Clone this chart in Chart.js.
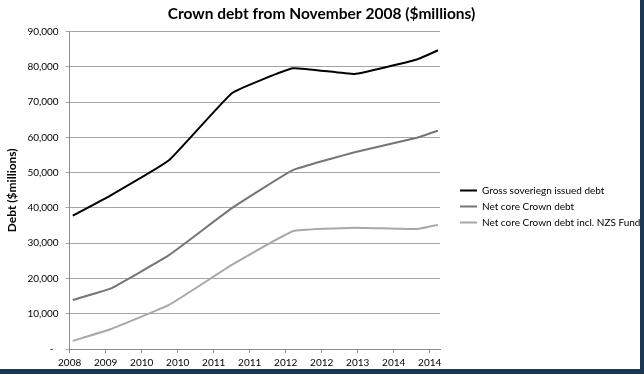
<!DOCTYPE html>
<html>
<head>
<meta charset="utf-8">
<script src="https://cdn.jsdelivr.net/npm/chart.js@4.4.0/dist/chart.umd.min.js"></script>
<style>
  body { margin: 0; background: #1c3550; overflow: hidden; }
  #box { position: absolute; left: 0; top: 0; width: 640px; height: 369px; background: #fff; }
</style>
</head>
<body>
<div id="box"><canvas id="grafico"></canvas></div>
<script>
// months after 1 Nov 2008 for each observation
const months = [0.6, 7.9, 19.3, 31.6, 43.4, 55.4, 67.5, 71.6];
const grossDebt = [37800, 43500, 53500, 72600, 79600, 78000, 82100, 84700];
const netCoreDebt = [13900, 17100, 26600, 40000, 50700, 55800, 59900, 61900];
const netCoreNzs = [2300, 5600, 12500, 23900, 33400, 34400, 34000, 35200];
const xTickLabels = ['2008', '2009', '2010', '2010', '2011', '2011', '2012', '2012', '2013', '2014', '2014'];
const seriesNames = ['Gross soveriegn issued debt', 'Net core Crown debt', 'Net core Crown debt incl. NZS Fund'];

const fontName = 'Lato, "Open Sans", sans-serif';

function pontos(valores) {
    return valores.map((v, i) => ({ x: months[i], y: v }));
}

function serie(nome, valores, cor) {
    return {
        label: nome,
        data: pontos(valores),
        borderColor: cor,
        backgroundColor: cor,
        borderWidth: 2,
        pointRadius: 0,
        tension: 0.1,
        fill: false
    };
}

// legenda: largura fixa e itens deslocados
const ajusteLegenda = {
    id: 'ajusteLegenda',
    afterInit(chart) {
        const legenda = chart.legend;
        const fitOriginal = legenda.fit.bind(legenda);
        legenda.fit = function () {
            fitOriginal();
            this.width = 200;
        };
    },
    afterLayout(chart) {
        chart.legend.left += 14;
        chart.legend.right += 14;
        chart.legend.top += 22;
        chart.legend.bottom += 22;
    }
};

const ctx = document.getElementById('grafico').getContext('2d');
new Chart(ctx, {
    type: 'line',
    data: {
        datasets: [
            serie(seriesNames[0], grossDebt, '#000000'),
            serie(seriesNames[1], netCoreDebt, '#757575'),
            serie(seriesNames[2], netCoreNzs, '#a8a8a8')
        ]
    },
    plugins: [ajusteLegenda],
    options: {
        responsive: true,
        maintainAspectRatio: false,
        animation: false,
        layout: { padding: { left: 3, right: 0, top: 0, bottom: 0 } },
        plugins: {
            title: {
                display: true,
                text: 'Crown debt from November 2008 ($millions)',
                color: '#000',
                font: { family: fontName, size: 15.5, weight: 'bold' },
                padding: { top: 5, bottom: 8 }
            },
            legend: {
                position: 'right',
                maxWidth: 200,
                labels: {
                    color: '#000',
                    font: { family: fontName, size: 10, lineHeight: 1.25 },
                    usePointStyle: true,
                    pointStyle: 'line',
                    pointStyleWidth: 17,
                    padding: 6
                }
            },
            tooltip: { enabled: false }
        },
        scales: {
            x: {
                type: 'linear',
                min: 0,
                max: 72,
                border: { color: '#8c8c8c' },
                grid: { drawOnChartArea: false, tickLength: 4, color: '#8c8c8c' },
                afterFit: (escala) => { escala.height -= 4; },
                ticks: {
                    stepSize: 7,
                    includeBounds: false,
                    autoSkip: false,
                    maxRotation: 0,
                    padding: 4,
                    color: '#000',
                    font: { family: fontName, size: 10 },
                    callback: (v, i) => xTickLabels[i]
                }
            },
            y: {
                min: 0,
                max: 90000,
                border: { color: '#8c8c8c' },
                grid: { color: '#a6a6a6', tickLength: 4 },
                title: {
                    display: true,
                    text: 'Debt ($millions)',
                    color: '#000',
                    font: { family: fontName, size: 12, weight: 'bold' },
                    padding: { top: 2, bottom: 1 }
                },
                ticks: {
                    stepSize: 10000,
                    padding: 7,
                    color: '#000',
                    font: { family: fontName, size: 10 },
                    callback: (v) => v === 0 ? '-  ' : v.toLocaleString('en-US')
                }
            }
        }
    }
});
</script>
</body>
</html>
